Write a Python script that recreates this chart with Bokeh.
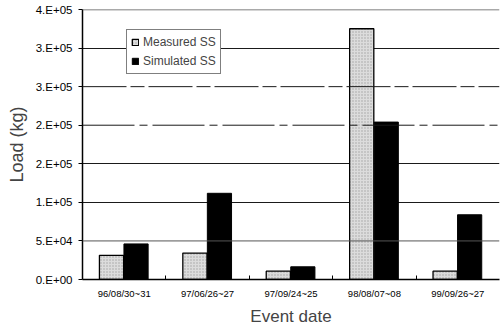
from bokeh.plotting import figure
from bokeh.models import ColumnDataSource, FixedTicker, Range1d, Span, Legend, LegendItem
from bokeh.transform import dodge
from bokeh.embed import file_html
from bokeh.resources import INLINE

dates = ["96/08/30~31", "97/06/26~27", "97/09/24~25", "98/08/07~08", "99/09/26~27"]
measured = [35800, 39200, 12400, 371500, 12400]
simulated = [52700, 127700, 18800, 233200, 95900]
y_max = 400000
y_ticks = [k * y_max / 7 for k in range(8)]
y_tick_labels = ["0.E+00", "5.E+04", "1.E+05", "2.E+05", "2.E+05", "3.E+05", "3.E+05", "4.E+05"]

centers = [i + 0.5 for i in range(len(dates))]
bounds = [i for i in range(1, len(dates))]
src = ColumnDataSource(dict(x=centers, measured=measured, simulated=simulated))

p = figure(x_range=Range1d(0, len(dates)), y_range=Range1d(0, y_max),
           frame_width=417, frame_height=270, output_backend="svg", toolbar_location=None,
           min_border_left=82, min_border_right=1, min_border_top=9, min_border_bottom=52)
p.outline_line_color = None
p.background_fill_color = "white"

# grid: solid lines, with the two dashed levels drawn separately
solid_levels = [y_ticks[i] for i in (2, 3, 6)]
p.ygrid.ticker = FixedTicker(ticks=solid_levels)
p.ygrid.grid_line_color = "#1a1a1a"
p.ygrid.grid_line_width = 1
p.xgrid.grid_line_color = None
p.add_layout(Span(location=y_ticks[1], dimension="width", line_color="#555",
                  line_width=1))
p.add_layout(Span(location=y_ticks[5], dimension="width", line_color="#1a1a1a",
                  line_width=1, line_dash="44 4 14 4"))
p.add_layout(Span(location=y_ticks[4], dimension="width", line_color="#1a1a1a",
                  line_width=1, line_dash="52 5 8 5"))
p.add_layout(Span(location=y_max, dimension="width", line_color="#555", line_width=1.5))

r1 = p.vbar(x=dodge("x", -0.152), top="measured", width=0.29, source=src,
            fill_color="#dcdcdc", line_color="black", line_width=1.3,
            hatch_pattern="dot", hatch_color="#7a7a7a", hatch_scale=3, hatch_alpha=0.6)
r2 = p.vbar(x=dodge("x", 0.142), top="simulated", width=0.29, source=src,
            fill_color="black", line_color="black", line_width=1)

p.yaxis.ticker = FixedTicker(ticks=y_ticks)
p.yaxis.major_label_overrides = {t: l for t, l in zip(y_ticks, y_tick_labels)}
p.yaxis.major_label_text_font = "Liberation Sans"
p.yaxis.major_label_text_font_size = "11.5px"
p.yaxis.major_label_text_color = "black"
p.yaxis.major_tick_out = 4
p.yaxis.major_tick_in = 0
p.yaxis.minor_tick_line_color = None
p.yaxis.axis_line_color = "black"
p.yaxis.axis_line_width = 1.5
p.yaxis.major_label_standoff = 6
p.yaxis.axis_label = "Load (kg)"
p.yaxis.axis_label_text_font = "Liberation Sans"
p.yaxis.axis_label_text_font_size = "18px"
p.yaxis.axis_label_text_font_style = "normal"
p.yaxis.axis_label_standoff = 6

p.xaxis.ticker = FixedTicker(ticks=centers, minor_ticks=bounds)
p.xaxis.major_label_overrides = {c: d for c, d in zip(centers, dates)}
p.xaxis.axis_label = "Event date"
p.xaxis.axis_label_text_font = "Liberation Sans"
p.xaxis.axis_label_text_font_size = "17px"
p.xaxis.axis_label_text_font_style = "normal"
p.xaxis.axis_label_standoff = 5
p.xaxis.major_label_text_font = "Liberation Sans"
p.xaxis.major_label_text_font_size = "9.5px"
p.xaxis.major_label_text_color = "black"
p.xaxis.major_tick_line_color = None
p.xaxis.major_tick_out = 0
p.xaxis.major_tick_in = 0
p.xaxis.minor_tick_line_color = "black"
p.xaxis.minor_tick_in = 4
p.xaxis.minor_tick_out = 0
p.xaxis.major_label_standoff = 8
p.xaxis.axis_line_color = "black"
p.xaxis.axis_line_width = 1.5

legend = Legend(items=[LegendItem(label="Measured SS", renderers=[r1]),
                       LegendItem(label="Simulated SS", renderers=[r2])],
                location=(44, 205), glyph_width=8, glyph_height=8,
                label_text_font="Liberation Sans", label_text_font_size="12px",
                label_height=16, label_standoff=4, padding=4, spacing=3, margin=0,
                border_line_color="black", border_line_width=1,
                background_fill_color="white", background_fill_alpha=1)
p.add_layout(legend, "center")

open("out.html", "w").write(file_html(p, INLINE))
